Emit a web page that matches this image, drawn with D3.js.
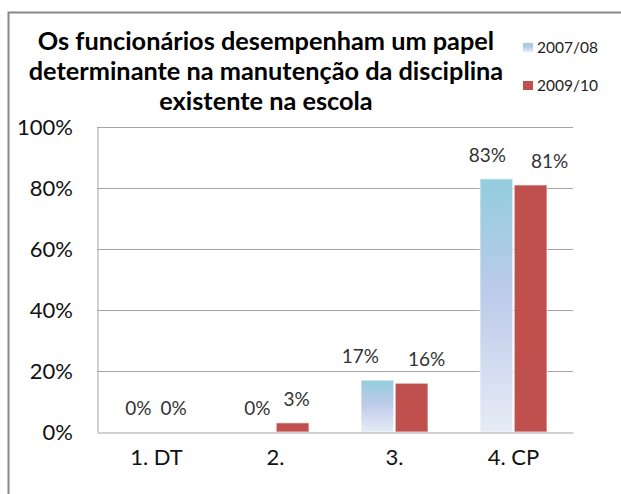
<!DOCTYPE html>
<html>
<head>
<meta charset="utf-8">
<script src="https://cdn.jsdelivr.net/npm/d3@7"></script>
<style>
  body { margin: 0; background: #fff; }
  svg { display: block; font-family: Lato, "Open Sans", sans-serif; }
</style>
</head>
<body>
<div id="chart"></div>
<script>
// data
const categories = ["1. DT", "2.", "3.", "4. CP"];
const seriesNames = ["2007/08", "2009/10"];
const values0708 = [0, 0, 17, 83];
const values0910 = [0, 3, 16, 81];
const yTicks = [0, 20, 40, 60, 80, 100];
const titleLines = ["Os funcionários desempenham um papel", "determinante na manutenção da disciplina", "existente na escola"];

// label nudges (Excel placed some labels off-centre)
const labelDx = [[-1, 0], [-1, 4], [-17, 15], [-9, 19]];

const width = 621, height = 494;
const margin = { top: 127, right: 48, bottom: 62, left: 97 };
const innerW = width - margin.left - margin.right;
const innerH = height - margin.top - margin.bottom;

const svg = d3.select("#chart").append("svg")
  .attr("width", width)
  .attr("height", height);

const defs = svg.append("defs");
const grad = defs.append("linearGradient")
  .attr("id", "lightGrad")
  .attr("x1", 0).attr("y1", 0).attr("x2", 0).attr("y2", 1);
grad.append("stop").attr("offset", "0%").attr("stop-color", "#93cddd");
grad.append("stop").attr("offset", "45%").attr("stop-color", "#bccbea");
grad.append("stop").attr("offset", "100%").attr("stop-color", "#e6ebf6");

const colors = ["url(#lightGrad)", "#c0504d"];

// outer chart border (runs off the picture right/bottom)
svg.append("rect")
  .attr("x", 8.5).attr("y", 12.5)
  .attr("width", 700).attr("height", 600)
  .attr("fill", "none")
  .attr("stroke", "#878787")
  .attr("stroke-width", 2);

// title
const title = svg.append("text")
  .attr("text-anchor", "middle")
  .attr("font-weight", "bold")
  .attr("font-size", 25.3)
  .attr("fill", "#000");
titleLines.forEach((t, i) => {
  title.append("tspan").attr("x", 266).attr("y", 50 + i * 30).text(t);
});

// legend
const legend = svg.append("g").attr("transform", "translate(523,38)");
seriesNames.forEach((s, i) => {
  const g = legend.append("g").attr("transform", "translate(0," + (i * 38) + ")");
  g.append("rect").attr("x", 0).attr("y", 5).attr("width", 10).attr("height", 9)
    .attr("fill", colors[i]);
  g.append("text").attr("x", 14).attr("y", 15)
    .attr("font-size", 15.5).attr("fill", "#222").text(s);
});

const plot = svg.append("g").attr("transform", "translate(" + margin.left + "," + margin.top + ")");

const y = d3.scaleLinear().domain([0, 100]).range([innerH, 0]);
const x0 = d3.scaleBand().domain(categories).range([0, innerW]).padding(0);
const groupW = 67;
const x1 = d3.scaleBand().domain([0, 1]).range([0, groupW]).paddingInner(0.04);

// gridlines
plot.append("g").selectAll("line")
  .data(yTicks.filter(d => d > 0))
  .join("line")
  .attr("x1", 0).attr("x2", innerW)
  .attr("y1", d => Math.round(y(d)) + 0.5).attr("y2", d => Math.round(y(d)) + 0.5)
  .attr("stroke", "#a5a5a5");

// y axis
const yAxis = plot.append("g")
  .call(d3.axisLeft(y).tickValues(yTicks).tickFormat(d => d + "%").tickSize(0).tickPadding(24));
yAxis.select(".domain").attr("stroke", "#a5a5a5").attr("transform", "translate(0.5,0)");
yAxis.selectAll("text").attr("font-size", 22).attr("font-family", "Lato, sans-serif").attr("fill", "#111");

// bars
const rows = categories.map((c, i) => ({ cat: c, i: i, vals: [values0708[i], values0910[i]] }));
const groups = plot.selectAll(".grp").data(rows).join("g")
  .attr("class", "grp")
  .attr("transform", d => "translate(" + (x0(d.cat) + (x0.bandwidth() - groupW) / 2) + ",0)");

groups.selectAll("rect")
  .data(d => d.vals.map((v, s) => ({ v: v, s: s })))
  .join("rect")
  .attr("x", d => x1(d.s))
  .attr("width", x1.bandwidth())
  .attr("y", d => y(d.v))
  .attr("height", d => innerH - y(d.v))
  .attr("fill", d => colors[d.s])
  .attr("stroke", d => d.v > 0 ? "#ffffff" : "none")
  .attr("stroke-opacity", 0.7)
  .attr("stroke-width", 1);

groups.selectAll(".lbl")
  .data(d => d.vals.map((v, s) => ({ v: v, s: s, i: d.i })))
  .join("text")
  .attr("class", "lbl")
  .attr("text-anchor", "middle")
  .attr("x", d => x1(d.s) + x1.bandwidth() / 2 + labelDx[d.i][d.s])
  .attr("y", d => y(d.v) - 17)
  .attr("font-size", 19)
  .attr("fill", "#333")
  .text(d => d.v + "%");

// x axis
const xAxis = plot.append("g")
  .attr("transform", "translate(0," + innerH + ")")
  .call(d3.axisBottom(x0).tickSize(0).tickPadding(17));
xAxis.select(".domain").attr("stroke", "#a5a5a5").attr("transform", "translate(0,0.5)");
xAxis.selectAll("text").attr("font-size", 22).attr("font-family", "Lato, sans-serif").attr("fill", "#111");
</script>
</body>
</html>
